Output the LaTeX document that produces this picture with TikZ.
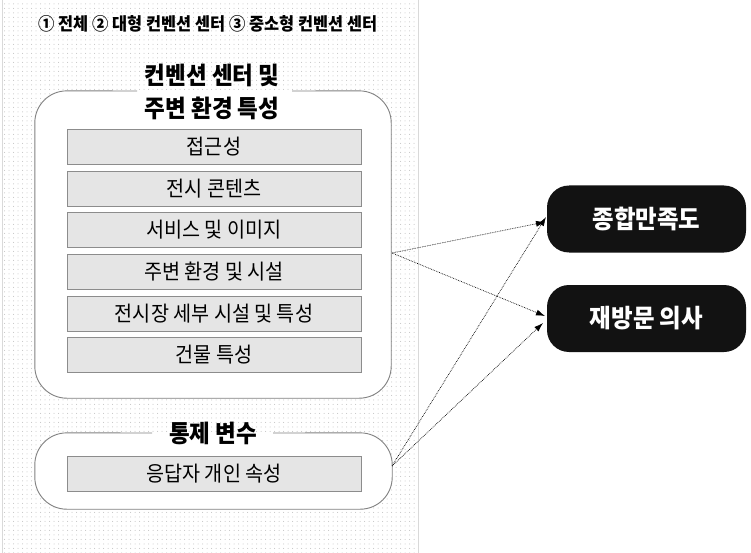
\documentclass[tikz,border=0pt]{standalone}
\usepackage{fontspec}
\newfontfamily\kr{Noto Sans CJK KR}[FakeStretch=0.93]
\usetikzlibrary{patterns.meta,arrows.meta}
\begin{document}
\begin{tikzpicture}[x=1pt,y=-1pt,
  frameline/.style={draw=black!50, line width=0.9pt},
  itembox/.style={draw=black!45, fill=black!10, line width=0.8pt, minimum width=294pt, minimum height=35pt, inner sep=0pt, font=\kr\fontsize{21.1}{23}\selectfont},
  sectitle/.style={font=\kr\bfseries\fontsize{24.2}{26}\selectfont, inner sep=0pt},
  outbox/.style={fill=black!93, rounded corners=22pt, minimum width=199pt, minimum height=67pt, inner sep=0pt, text=white, font=\kr\bfseries\fontsize{25.2}{28}\selectfont},
  link/.style={densely dotted, line width=0.7pt, -{Latex[length=9pt,width=6pt]}}
]
\useasboundingbox (0,0) rectangle (751,553);
% dotted panel
\fill[white] (0,0) rectangle (751,553);
\path[pattern={Dots[distance=4.5pt,radius=0.5pt]}, pattern color=black!25] (2,0) rectangle (418,553);
\draw[black!15, line width=0.8pt] (2,0) -- (2,553);
\draw[black!15, line width=0.8pt] (418,0) -- (418,553);

% header
\node[font=\kr\bfseries\fontsize{17.6}{20}\selectfont, inner sep=0pt] (hdr) at (208,24) {① 전체 ② 대형 컨벤션 센터 ③ 중소형 컨벤션 센터};

% environment frame
\node[fill=white, rounded corners=32pt, minimum width=356pt, minimum height=307pt, inner sep=0pt] (env) at (213,244.5) {};
\draw[frameline, rounded corners=32pt] (292,91) -- (env.north east) -- (env.south east) -- (env.south west) -- (env.north west) -- (137,91);
\node[sectitle] (envt1) at (212,75) {컨벤션 센터 및};
\node[sectitle] (envt2) at (212,108) {주변 환경 특성};

\node[itembox] (i1) at (214,146.5) {접근성};
\node[itembox] (i2) at (214,188.5) {전시 콘텐츠};
\node[itembox] (i3) at (214,230) {서비스 및 이미지};
\node[itembox] (i4) at (214,272) {주변 환경 및 시설};
\node[itembox] (i5) at (214,313.5) {전시장 세부 시설 및 특성};
\node[itembox] (i6) at (214,355) {건물 특성};

% control frame
\node[fill=white, rounded corners=32pt, minimum width=357pt, minimum height=76pt, inner sep=0pt] (ctl) at (213.5,471) {};
\draw[frameline, rounded corners=32pt] (273,433) -- (ctl.north east) -- (ctl.south east) -- (ctl.south west) -- (ctl.north west) -- (152,433);
\node[sectitle] (ctlt) at (213,433) {통제 변수};
\node[itembox] (c1) at (214,474) {응답자 개인 속성};

% outcomes
\node[outbox] (o1) at (646.5,219) {종합만족도};
\node[outbox] (o2) at (646.5,318.5) {재방문 의사};

% connectors
\coordinate (s1) at (392,253);
\coordinate (s2) at (392,466);
\coordinate (t1a) at (545,222);
\coordinate (t1b) at (546,217);
\coordinate (t2a) at (545,316);
\coordinate (t2b) at (543,323);
\draw[link] (s1) -- (t1a);
\draw[link] (s1) -- (t2a);
\draw[link] (s2) -- (t1b);
\draw[link] (s2) -- (t2b);
\end{tikzpicture}
\end{document}
